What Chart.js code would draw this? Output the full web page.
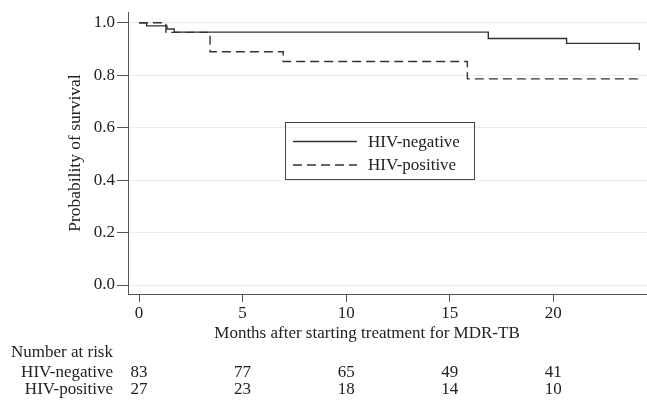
<!DOCTYPE html>
<html>
<head>
<meta charset="utf-8">
<script src="https://cdn.jsdelivr.net/npm/chart.js@4.4.1/dist/chart.umd.min.js"></script>
<style>
html,body{margin:0;padding:0;background:#fff;}
#wrap{width:647px;height:400px;position:relative;}
</style>
</head>
<body>
<div id="wrap"><canvas id="c" width="647" height="400"></canvas></div>
<script>
// Kaplan-Meier step points (months, survival probability)
const negTimes = [0, 0.37, 1.35, 1.7, 16.86, 20.64, 24.15];
const negSurv  = [1.0, 0.988, 0.976, 0.964, 0.940, 0.921, 0.895];
const posTimes = [0, 1.3, 3.43, 6.96, 15.85, 24.15];
const posSurv  = [1.0, 0.963, 0.889, 0.852, 0.786, 0.786];
const seriesNames = ['HIV-negative', 'HIV-positive'];
const xTicks = [0, 5, 10, 15, 20];
const yTicks = [0, 0.2, 0.4, 0.6, 0.8, 1.0];
const riskTimes = [0, 5, 10, 15, 20];
const riskNeg = [83, 77, 65, 49, 41];
const riskPos = [27, 23, 18, 14, 10];
const xTitle = 'Months after starting treatment for MDR-TB';

const FONT = "'Liberation Serif', 'Times New Roman', serif";
const INK = '#222';

const legendPlugin = {
  id: 'boxLegend',
  afterDraw(chart) {
    const ctx = chart.ctx;
    ctx.save();
    ctx.strokeStyle = '#444';
    ctx.lineWidth = 1;
    ctx.strokeRect(285.5, 122.5, 189, 57);
    const rows = [141.5, 165];
    chart.data.datasets.forEach((ds, i) => {
      ctx.strokeStyle = ds.borderColor;
      ctx.lineWidth = ds.borderWidth;
      ctx.setLineDash(ds.borderDash || []);
      ctx.beginPath();
      ctx.moveTo(293, rows[i]);
      ctx.lineTo(357, rows[i]);
      ctx.stroke();
      ctx.setLineDash([]);
      ctx.fillStyle = INK;
      ctx.font = '17px ' + FONT;
      ctx.textAlign = 'left';
      ctx.textBaseline = 'middle';
      ctx.fillText(ds.label, 368, rows[i] + 1);
    });
    ctx.restore();
  }
};

const riskPlugin = {
  id: 'riskTable',
  afterDraw(chart) {
    const ctx = chart.ctx;
    const xs = chart.scales.x;
    ctx.save();
    ctx.fillStyle = INK;
    ctx.font = '17px ' + FONT;
    ctx.textBaseline = 'middle';
    ctx.textAlign = 'center';
    ctx.fillText(xTitle, 367, 334);
    ctx.textAlign = 'left';
    ctx.fillText('Number at risk', 11, 353);
    ctx.textAlign = 'right';
    ctx.fillText(seriesNames[0], 113, 373);
    ctx.fillText(seriesNames[1], 113, 390);
    ctx.textAlign = 'center';
    riskTimes.forEach((t, i) => {
      const px = xs.getPixelForValue(t);
      ctx.fillText(String(riskNeg[i]), px, 373);
      ctx.fillText(String(riskPos[i]), px, 390);
    });
    ctx.restore();
  }
};

const toPts = (xs, ys) => xs.map((x, i) => ({x: x, y: ys[i]}));

new Chart(document.getElementById('c'), {
  type: 'line',
  data: {
    datasets: [
      {label: seriesNames[0], data: toPts(negTimes, negSurv), stepped: 'before',
       borderColor: '#333', borderWidth: 1.4, pointRadius: 0, fill: false},
      {label: seriesNames[1], data: toPts(posTimes, posSurv), stepped: 'before',
       borderColor: '#333', borderWidth: 1.4, borderDash: [9, 5], pointRadius: 0, fill: false}
    ]
  },
  options: {
    responsive: false,
    animation: false,
    devicePixelRatio: 1,
    layout: {padding: {top: 12, right: 0, bottom: 0, left: 0}},
    plugins: {legend: {display: false}, tooltip: {enabled: false}},
    scales: {
      x: {
        type: 'linear',
        min: -0.531, max: 24.52,
        afterBuildTicks(s) { s.ticks = xTicks.map(v => ({value: v})); },
        afterFit(s) { s.height = 106; },
        grid: {display: true, drawOnChartArea: false, drawTicks: true, tickLength: 8, tickColor: '#555'},
        border: {color: '#555', width: 1},
        ticks: {color: INK, font: {family: FONT, size: 17}, padding: 1, maxRotation: 0, autoSkip: false},
        title: {display: false}
      },
      y: {
        type: 'linear',
        min: -0.0343, max: 1.04,
        afterBuildTicks(s) { s.ticks = yTicks.map(v => ({value: v})); },
        afterFit(s) { s.width = 128; },
        grid: {color: '#ececec', tickColor: '#555', tickLength: 11, lineWidth: 1},
        border: {color: '#555', width: 1},
        ticks: {color: INK, font: {family: FONT, size: 17}, padding: 2,
                callback: v => Number(v).toFixed(1)},
        title: {display: true, text: 'Probability of survival', color: INK,
                font: {family: FONT, size: 17.5}, padding: {top: 65, bottom: 0}}
      }
    }
  },
  plugins: [legendPlugin, riskPlugin]
});
</script>
</body>
</html>
